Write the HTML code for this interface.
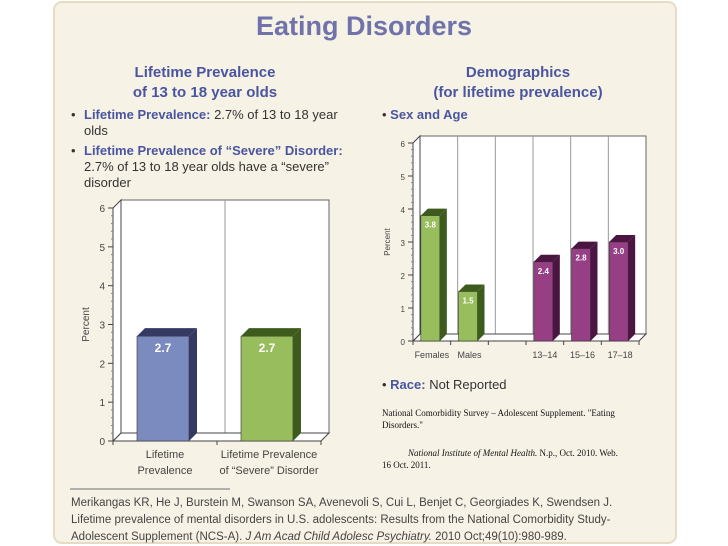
<!DOCTYPE html>
<html><head><meta charset="utf-8">
<style>
body{margin:0;width:728px;height:546px;background:#fff;overflow:hidden;font-family:"Liberation Sans",sans-serif}
svg{position:absolute;left:0;top:0}
</style></head>
<body>
<svg width="728" height="546" viewBox="0 0 728 546" font-family="Liberation Sans, sans-serif">
<rect x="54" y="2" width="622" height="541" rx="8" fill="#f7f2e6" stroke="#e6dcc4" stroke-width="2"/>
<text x="364" y="35" text-anchor="middle" font-size="27" font-weight="bold" fill="#6f73aa">Eating Disorders</text>
<g font-size="15" font-weight="bold" fill="#4a55a0" text-anchor="middle">
<text x="205" y="77">Lifetime Prevalence</text><text x="205" y="97">of 13 to 18 year olds</text></g>
<g font-size="15" font-weight="bold" fill="#4a55a0" text-anchor="middle">
<text x="518" y="77">Demographics</text><text x="518" y="97">(for lifetime prevalence)</text></g>
<g font-size="13" fill="#333">
<text x="71" y="119">•</text><text x="84" y="119"><tspan font-weight="bold" fill="#4a55a0">Lifetime Prevalence:</tspan> 2.7% of 13 to 18 year</text>
<text x="84" y="135">olds</text>
<text x="71" y="155">•</text><text x="84" y="155" font-weight="bold" fill="#4a55a0">Lifetime Prevalence of “Severe” Disorder:</text>
<text x="84" y="171">2.7% of 13 to 18 year olds have a “severe”</text>
<text x="84" y="187">disorder</text></g>
<text x="382" y="119" font-size="13" font-weight="bold" fill="#4a55a0"><tspan fill="#333" font-weight="normal">•</tspan>  Sex and Age</text>
<text x="382" y="389" font-size="13" fill="#333">•  <tspan font-weight="bold" fill="#4a55a0">Race:</tspan> Not Reported</text>
<g font-family="Liberation Serif, serif" font-size="9" fill="#111">
<text x="382" y="416">National Comorbidity Survey – Adolescent Supplement. "Eating</text>
<text x="382" y="428">Disorders."</text>
<text x="408" y="456" font-style="italic">National Institute of Mental Health.<tspan font-style="normal"> N.p., Oct. 2010. Web.</tspan></text>
<text x="382" y="468">16 Oct. 2011.</text></g>
<line x1="70" y1="489" x2="230" y2="489" stroke="#999" stroke-width="1.5"/>
<g font-size="11.5" fill="#444">
<text x="71" y="506">Merikangas KR, He J, Burstein M, Swanson SA, Avenevoli S, Cui L, Benjet C, Georgiades K, Swendsen J.</text>
<text x="71" y="523">Lifetime prevalence of mental disorders in U.S. adolescents: Results from the National Comorbidity Study-</text>
<text x="71" y="540">Adolescent Supplement (NCS-A). <tspan font-style="italic">J Am Acad Child Adolesc Psychiatry.</tspan> 2010 Oct;49(10):980-989.</text></g>
<g id="left-chart"></g>
<g id="right-chart"></g>
</svg>
<script>
const leftCategories = [["Lifetime","Prevalence"],["Lifetime Prevalence","of “Severe” Disorder"]];
const leftValues = [2.7, 2.7];
const leftLabels = ["2.7","2.7"];
const rightCategories = ["Females","Males","","13–14","15–16","17–18"];
const rightValues = [3.8, 1.5, null, 2.4, 2.8, 3.0];
const rightLabels = ["3.8","1.5","","2.4","2.8","3.0"];
const yTicks = [0,1,2,3,4,5,6];

const NS="http://www.w3.org/2000/svg";
function mk(p,tag,a){const e=document.createElementNS(NS,tag);for(const k in a)e.setAttribute(k,a[k]);p.appendChild(e);return e;}

function chart(g,cfg){
  const {x0,x1,y0,y6,d,cats,vals,labels,colors,fs,bw,catFs}=cfg;
  const ys=v=>y0-(y0-y6)*v/6;
  const n=cats.length, slot=(x1-x0)/n;
  const xs=i=>x0+slot*i;
  const wall=mk(g,'rect',{x:x0+d,y:ys(6)-d,width:x1-x0,height:y0-ys(6),fill:'#fff',stroke:'#666','stroke-width':1});
  
  
  for(let i=1;i<n;i++){const l=mk(g,'line',{x1:xs(i)+d,x2:xs(i)+d,y1:ys(6)-d,y2:y0-d,stroke:'#999'});
    
    }
  const fl=mk(g,'polygon',{points:`${x0},${y0} ${x0+d},${y0-d} ${x1+d},${y0-d} ${x1},${y0}`,fill:'#fff',stroke:'#444'});
  
  
  mk(g,'polygon',{points:`${x0},${y0} ${x0},${ys(6)} ${x0+d},${ys(6)-d} ${x0+d},${y0-d}`,fill:'#fff',stroke:'#444'});
  yTicks.forEach(t=>{
    const tk=mk(g,'line',{x1:x0-5,x2:x0,y1:ys(t),y2:ys(t),stroke:'#444'});
    
    
    const tl=mk(g,'text',{x:x0-8,y:ys(t)+4,'text-anchor':'end','font-size':fs,fill:'#444'});tl.textContent=t;
    
    
    if(t<6)for(let m=1;m<5;m++){mk(g,'line',{x1:x0-2,x2:x0,y1:ys(t+m/5),y2:ys(t+m/5),stroke:'#888'});}
  });
  for(let i=0;i<=n;i++){ mk(g,'line',{x1:xs(i),x2:xs(i),y1:y0,y2:y0+4,stroke:'#444'}); }
  const yt=mk(g,'text',{x:cfg.ytx,y:(y0+y6)/2,'text-anchor':'middle','font-size':fs,fill:'#444',transform:`rotate(-90 ${cfg.ytx} ${(y0+y6)/2})`});
  yt.textContent='Percent';
  
  
  vals.forEach((v,i)=>{
    const cx=xs(i)+slot/2, bx=cx-bw/2-d/2+2, top=ys(v==null?0:v);
    if(v!=null){
      const c=colors[i];
      const bar=mk(g,'rect',{x:bx,y:top,width:bw,height:y0-top,fill:c[0],stroke:'#333','stroke-width':0.6});
      
      
      mk(g,'polygon',{points:`${bx+bw},${top} ${bx+bw+d},${top-d} ${bx+bw+d},${y0-d} ${bx+bw},${y0}`,fill:c[1]});
      mk(g,'polygon',{points:`${bx},${top} ${bx+d},${top-d} ${bx+bw+d},${top-d} ${bx+bw},${top}`,fill:c[1]});
      const vl=mk(g,'text',{x:bx+bw/2,y:top+cfg.lblDy,'text-anchor':'middle','font-size':cfg.lblFs,'font-weight':'bold',fill:'#fff'});
      vl.textContent=labels[i];
      
      
    }
    const lines=typeof cats[i]==='string'?[cats[i]]:cats[i];
    lines.forEach((s,k)=>{const cl=mk(g,'text',{x:cx,y:y0+cfg.catDy+k*16,'text-anchor':'middle','font-size':catFs,fill:'#444'});cl.textContent=s;
      
      });
  });
}
chart(document.getElementById('left-chart'),{x0:113,x1:321,y0:441,y6:208,d:8,cats:leftCategories,vals:leftValues,labels:leftLabels,
  colors:[["#7b8bbf","#343a62"],["#98bd5d","#3e5b1e"]],fs:10,bw:52,catFs:11,catDy:17,lblFs:12,lblDy:16,ytx:89});
chart(document.getElementById('right-chart'),{x0:413,x1:639,y0:341,y6:143,d:7,cats:rightCategories,vals:rightValues,labels:rightLabels,
  colors:[["#98bd5d","#3e5b1e"],["#98bd5d","#3e5b1e"],null,["#963f84","#4a1540"],["#963f84","#4a1540"],["#963f84","#4a1540"]],fs:8,bw:19,catFs:9,catDy:17,lblFs:8,lblDy:12,ytx:390});
</script>
</body></html>
